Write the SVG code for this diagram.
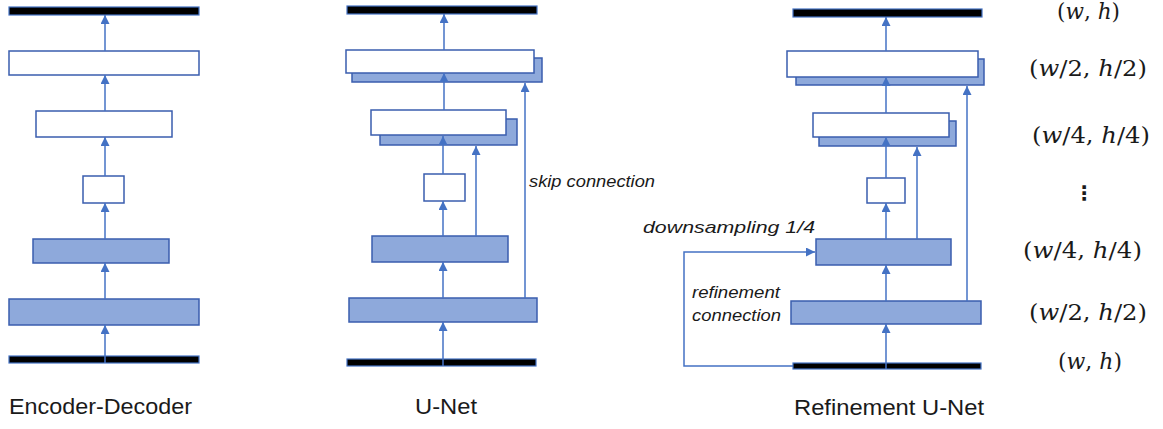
<svg xmlns="http://www.w3.org/2000/svg" width="1163" height="429" viewBox="0 0 1163 429">
<defs>
<style>
.bar{fill:#000;stroke:#4472C4;stroke-width:1.2}
.wb{fill:#fff;stroke:#3A5DAE;stroke-width:1.5}
.bb{fill:#8EA9DB;stroke:#3A5DAE;stroke-width:1.5}
.cn{fill:none;stroke:#4472C4;stroke-width:1.5}
.ttl{font-family:"Liberation Sans",Arial,sans-serif;font-size:22px;fill:#1a1a1a}
.lbl{font-family:"Liberation Sans",Arial,sans-serif;font-style:italic;font-size:17px;fill:#1a1a1a}
.mth{font-family:"DejaVu Serif","Liberation Serif",serif;font-size:22px;fill:#1a1a1a}
.it{font-style:italic}
</style>
<marker id="ah" markerUnits="userSpaceOnUse" markerWidth="9" markerHeight="9" refX="8" refY="4" orient="auto" viewBox="0 0 8 8">
<path d="M0,0 L8,4 L0,8 z" fill="#4472C4"/>
</marker>
</defs>
<rect width="1163" height="429" fill="#fff"/>

<!-- Encoder-Decoder -->
<g id="ed-out"><rect class="bar" x="9" y="7" width="190" height="8"/></g>
<g id="ed-up2"><rect class="wb" x="9" y="51" width="190" height="24"/></g>
<g id="ed-up1"><rect class="wb" x="36" y="111" width="136" height="26"/></g>
<g id="ed-mid"><rect class="wb" x="83" y="176" width="41" height="27"/></g>
<g id="ed-down2"><rect class="bb" x="33" y="239" width="136" height="24"/></g>
<g id="ed-down1"><rect class="bb" x="9" y="299" width="190" height="26"/></g>
<g id="ed-in"><rect class="bar" x="9" y="356" width="190" height="7"/></g>
<g id="ed-title"><text class="ttl" x="9" y="414" textLength="183" lengthAdjust="spacingAndGlyphs">Encoder-Decoder</text></g>

<!-- U-Net -->
<g id="un-out"><rect class="bar" x="347" y="6" width="190" height="8"/></g>
<g id="un-up2"><rect class="bb" x="352" y="58" width="190" height="24"/><rect class="wb" x="346" y="50" width="188" height="23"/></g>
<g id="un-up1"><rect class="bb" x="380" y="119" width="137" height="26"/><rect class="wb" x="371" y="110" width="135" height="25"/></g>
<g id="un-mid"><rect class="wb" x="424" y="174" width="41" height="27"/></g>
<g id="un-down2"><rect class="bb" x="372" y="236" width="136" height="26"/></g>
<g id="un-down1"><rect class="bb" x="349" y="298" width="188" height="24"/></g>
<g id="un-in"><rect class="bar" x="347" y="359" width="189" height="7"/></g>
<g id="un-title"><text class="ttl" x="415" y="414" textLength="62" lengthAdjust="spacingAndGlyphs">U-Net</text></g>
<g id="un-skip-label"><text class="lbl" x="529" y="187" textLength="126" lengthAdjust="spacingAndGlyphs">skip connection</text></g>

<!-- Refinement U-Net -->
<g id="ru-out"><rect class="bar" x="793" y="9" width="189" height="8"/></g>
<g id="ru-up2"><rect class="bb" x="796" y="59" width="188" height="26"/><rect class="wb" x="787" y="51" width="191" height="26"/></g>
<g id="ru-up1"><rect class="bb" x="819" y="121" width="137" height="25"/><rect class="wb" x="813" y="113" width="136" height="24"/></g>
<g id="ru-mid"><rect class="wb" x="867" y="178" width="38" height="25"/></g>
<g id="ru-down2"><rect class="bb" x="816" y="239" width="135" height="26"/></g>
<g id="ru-down1"><rect class="bb" x="791" y="301" width="190" height="23"/></g>
<g id="ru-in"><rect class="bar" x="793" y="363" width="188" height="6"/></g>
<g id="ru-title"><text class="ttl" x="794" y="415" textLength="190" lengthAdjust="spacingAndGlyphs">Refinement U-Net</text></g>
<g id="ru-down-label"><text class="lbl" x="643" y="233" font-size="19" textLength="172" lengthAdjust="spacingAndGlyphs">downsampling 1/4</text></g>
<g id="ru-ref-label">
<text class="lbl" x="692" y="298" textLength="88" lengthAdjust="spacingAndGlyphs">refinement</text>
<text class="lbl" x="692" y="321" textLength="89" lengthAdjust="spacingAndGlyphs">connection</text>
</g>

<!-- Resolution labels -->
<g id="res-labels">
<text class="mth" x="1057" y="19" textLength="63" lengthAdjust="spacingAndGlyphs">(<tspan class="it">w</tspan>, <tspan class="it">h</tspan>)</text>
<text class="mth" x="1029" y="76" textLength="118" lengthAdjust="spacingAndGlyphs">(<tspan class="it">w</tspan>/2, <tspan class="it">h</tspan>/2)</text>
<text class="mth" x="1032" y="143" textLength="118" lengthAdjust="spacingAndGlyphs">(<tspan class="it">w</tspan>/4, <tspan class="it">h</tspan>/4)</text>
<text x="1084" y="200" font-family="DejaVu Sans,sans-serif" font-size="20" font-weight="bold" text-anchor="middle" fill="#1a1a1a">⋮</text>
<text class="mth" x="1023" y="258" textLength="119" lengthAdjust="spacingAndGlyphs">(<tspan class="it">w</tspan>/4, <tspan class="it">h</tspan>/4)</text>
<text class="mth" x="1029" y="320" textLength="118" lengthAdjust="spacingAndGlyphs">(<tspan class="it">w</tspan>/2, <tspan class="it">h</tspan>/2)</text>
<text class="mth" x="1058" y="369" textLength="64" lengthAdjust="spacingAndGlyphs">(<tspan class="it">w</tspan>, <tspan class="it">h</tspan>)</text>
</g>

<!-- Connectors -->
<g id="connectors" class="cn" marker-end="url(#ah)">
<line x1="105" y1="363" x2="105" y2="325"/>
<line x1="105" y1="299" x2="105" y2="263"/>
<line x1="105" y1="239" x2="105" y2="203"/>
<line x1="105" y1="176" x2="105" y2="137"/>
<line x1="105" y1="111" x2="105" y2="75"/>
<line x1="105" y1="51" x2="105" y2="15"/>

<line x1="443" y1="366" x2="443" y2="322"/>
<line x1="443" y1="298" x2="443" y2="262"/>
<line x1="443" y1="236" x2="443" y2="201"/>
<line x1="443" y1="174" x2="443" y2="136"/>
<line x1="444" y1="110" x2="444" y2="73"/>
<line x1="444" y1="50" x2="444" y2="14"/>
<line x1="476" y1="236" x2="476" y2="146"/>
<line x1="525" y1="298" x2="525" y2="83"/>

<line x1="886" y1="369" x2="886" y2="324"/>
<line x1="886" y1="301" x2="886" y2="265"/>
<line x1="886" y1="239" x2="886" y2="203"/>
<line x1="886" y1="178" x2="886" y2="137"/>
<line x1="886" y1="113" x2="886" y2="77"/>
<line x1="886" y1="51" x2="886" y2="17"/>
<line x1="917" y1="239" x2="917" y2="147"/>
<line x1="967" y1="301" x2="967" y2="86"/>
<path d="M793,366 H684 V252 H815"/>
</g>
</svg>
